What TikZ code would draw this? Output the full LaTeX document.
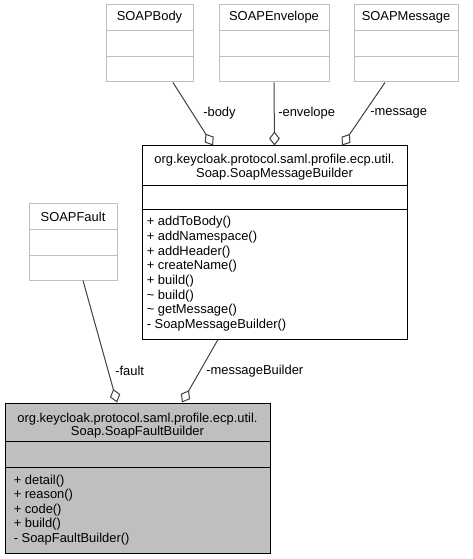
\documentclass[tikz,border=0pt]{standalone}
\usepackage{fontspec}
\setmainfont{Liberation Sans}
\usetikzlibrary{positioning,fit,calc,arrows.meta}

\definecolor{edgegray}{HTML}{404040}
\definecolor{boxgray}{HTML}{BFBFBF}
\definecolor{faintgray}{HTML}{BFBFBF}

\begin{document}
\begin{tikzpicture}[x=0.75pt,y=-0.75pt,
  font=\fontsize{9.7}{9}\selectfont,
  cls/.style={draw,inner sep=0pt,line width=0.75pt},
  extcls/.style={cls,draw=faintgray,fill=white},
  mcls/.style={cls,draw=black,fill=white},
  curcls/.style={cls,draw=black,fill=boxgray},
  agg/.style={draw=edgegray,line width=0.75pt,{Diamond[open,length=10.5pt,width=8pt,line width=0.75pt]}-},
  lbl/.style={anchor=west,inner sep=0pt},
  op/.style={anchor=base west,inner sep=0pt}]
  \useasboundingbox (0,0) rectangle (472,559);

  % external classes
  \foreach \n/\t/\xa/\ya/\xb/\yb in {body/SOAPBody/106/5/193/82,
      env/SOAPEnvelope/219/5/329/82, msg/SOAPMessage/354/5/458/82,
      fault/SOAPFault/29/204/117/280} {
    \node[extcls,fit={(\xa,\ya) (\xb,\yb)}] (\n) {};
    \node (\n-name) at ($(\n.north)+(0,13)$) {\t};
    \draw[faintgray,line width=0.75pt] ($(\n.north west)+(0,26)$) -- ($(\n.north east)+(0,26)$)
      ($(\n.north west)+(0,52)$) -- ($(\n.north east)+(0,52)$);
  }

  % Soap.SoapMessageBuilder
  \node[mcls,fit={(142,146) (407,339)}] (smb) {};
  \node[align=center] (smb-name) at ($(smb.north)+(0,21.5)$)
    {org.keycloak.protocol.saml.profile.ecp.util.\\Soap.SoapMessageBuilder};
  \draw[line width=0.75pt] ($(smb.north west)+(0,40)$) -- ($(smb.north east)+(0,40)$)
    ($(smb.north west)+(0,64)$) -- ($(smb.north east)+(0,64)$);
  \foreach \m [count=\i from 0] in {+ addToBody(), + addNamespace(), + addHeader(),
      + createName(), + build(), \textasciitilde{} build(), \textasciitilde{} getMessage(),
      - SoapMessageBuilder()}
    \node[op] (smb-op\i) at ($(smb.north west)+(5,80.5+14.6*\i)$) {\m};

  % Soap.SoapFaultBuilder
  \node[curcls,fit={(5,403) (270,553)}] (sfb) {};
  \node[align=center] (sfb-name) at ($(sfb.north)+(0,23)$)
    {org.keycloak.protocol.saml.profile.ecp.util.\\Soap.SoapFaultBuilder};
  \draw[line width=0.75pt] ($(sfb.north west)+(0,39)$) -- ($(sfb.north east)+(0,39)$)
    ($(sfb.north west)+(0,65)$) -- ($(sfb.north east)+(0,65)$);
  \foreach \m [count=\i from 0] in {+ detail(), + reason(), + code(), + build(),
      - SoapFaultBuilder()}
    \node[op] (sfb-op\i) at ($(sfb.north west)+(9,81.5+14.5*\i)$) {\m};

  % aggregations
  \draw[agg] ($(smb.north)+(-61.5,0)$) -- ($(body.south)+(23.5,0)$);
  \draw[agg] (smb.north) -- (env.south);
  \draw[agg] ($(smb.north)+(67.5,0)$) -- ($(msg.south)+(-21,0)$);
  \draw[agg] ($(sfb.north)+(-20.5,0)$) -- ($(fault.south)+(10,0)$);
  \draw[agg] ($(sfb.north)+(44.5,0)$) -- ($(smb.south)+(-56.5,0)$);

  \node[lbl] (body-lbl) at (203,113) {-body};
  \node[lbl] (env-lbl) at (278,113) {-envelope};
  \node[lbl] (msg-lbl) at (370,113) {-message};
  \node[lbl] (fault-lbl) at (115,371) {-fault};
  \node[lbl] (smb-lbl) at (206,371) {-messageBuilder};
\end{tikzpicture}
\end{document}
